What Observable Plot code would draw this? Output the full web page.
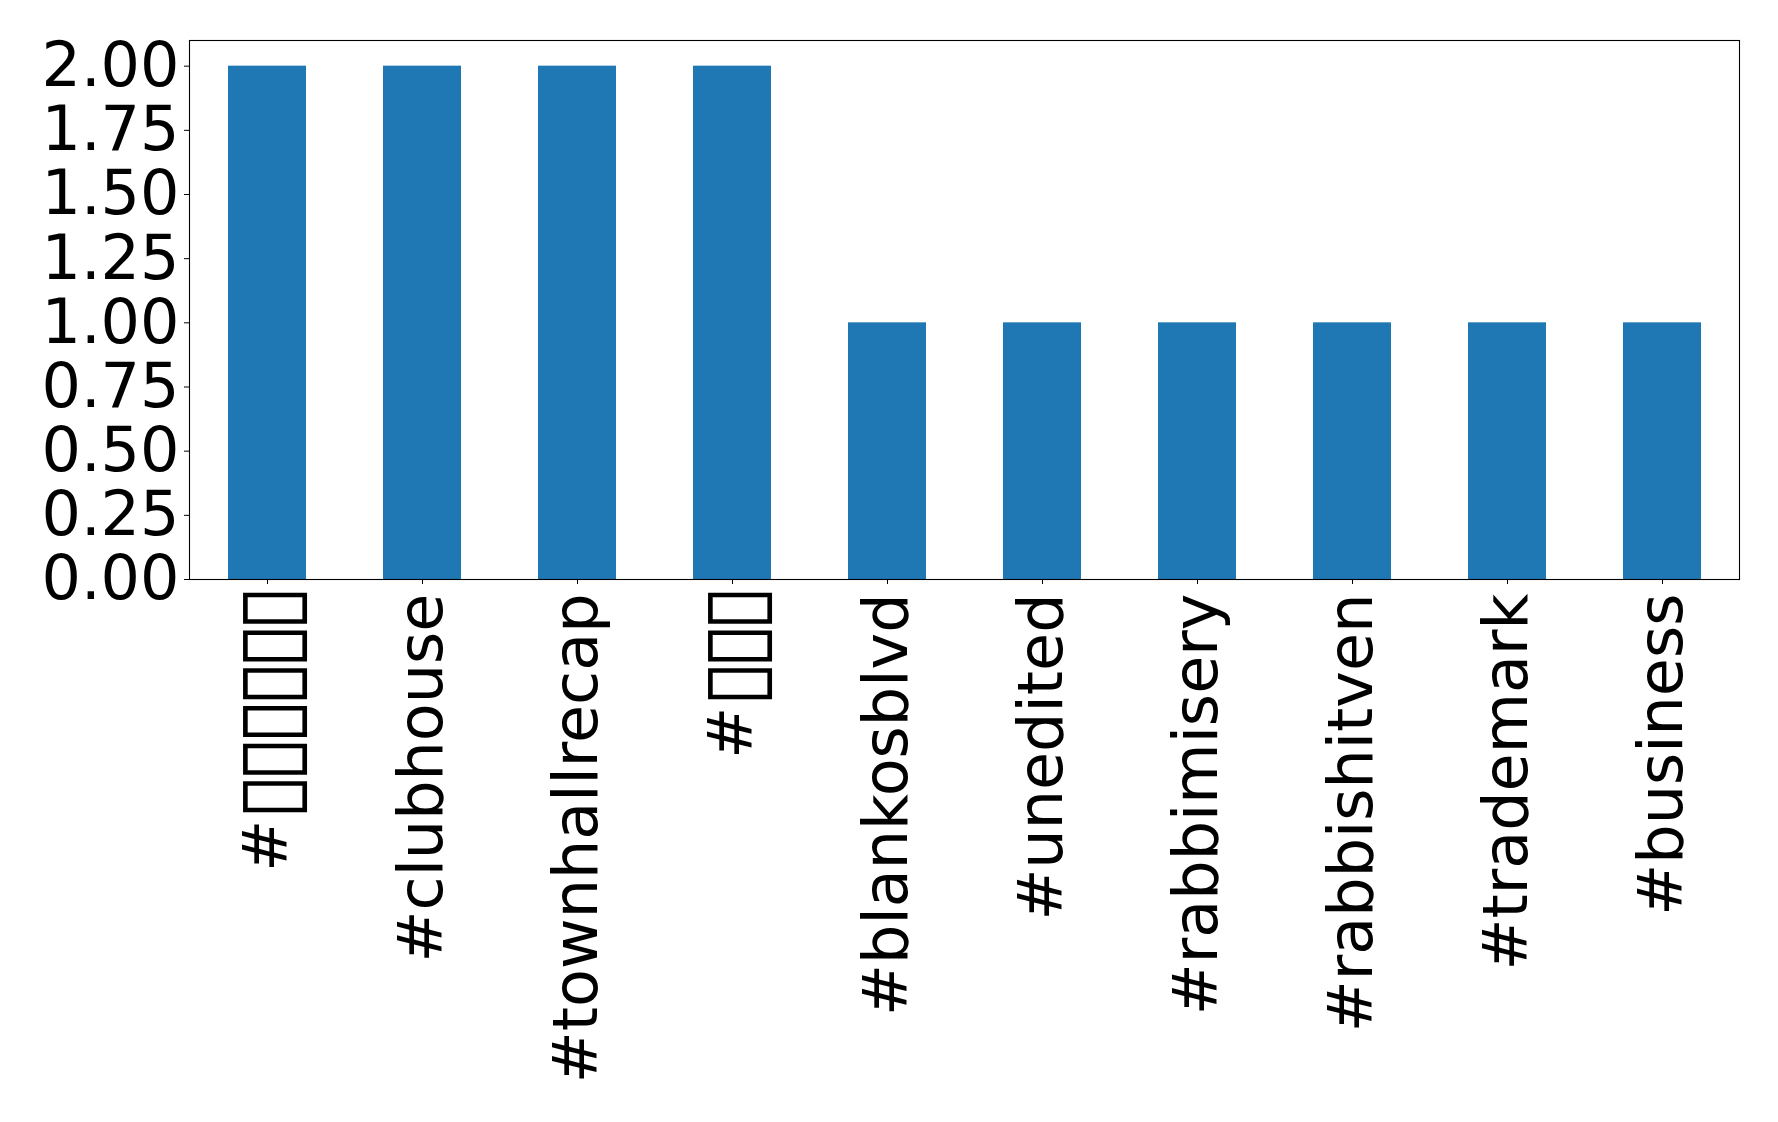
<!DOCTYPE html>
<html>
<head>
<meta charset="utf-8">
<script src="https://cdn.jsdelivr.net/npm/d3@7"></script>
<script src="https://cdn.jsdelivr.net/npm/@observablehq/plot@0.6"></script>
<style>
  html, body { margin: 0; padding: 0; background: white; }
</style>
</head>
<body>
<div id="chart"></div>
<script>
const tags = ["#▯▯▯▯▯▯", "#clubhouse", "#townhallrecap", "#▯▯▯", "#blankosblvd", "#unedited", "#rabbimisery", "#rabbishitven", "#trademark", "#business"];
const counts = [2, 2, 2, 2, 1, 1, 1, 1, 1, 1];
const yTicks = [0, 0.25, 0.5, 0.75, 1, 1.25, 1.5, 1.75, 2];

const data = tags.map((t, i) => ({tag: t, count: counts[i]}));

const chart = Plot.plot({
  width: 1778,
  height: 1122,
  marginLeft: 189,
  marginRight: 39,
  marginTop: 40,
  marginBottom: 543,
  style: {fontFamily: "DejaVu Sans", fontSize: "62px", color: "black", background: "white"},
  x: {domain: tags, paddingInner: 0.5, paddingOuter: 0.25, label: null},
  y: {domain: [0, 2.1], label: null},
  marks: [
    Plot.barY(data, {x: "tag", y: "count", fill: "#1f77b4"}),
    Plot.frame({stroke: "black", strokeWidth: 1.1}),
    Plot.axisY({ticks: yTicks, tickFormat: d => d.toFixed(2), tickSize: 5, tickPadding: 5, fontSize: 62, label: null}),
    Plot.axisX({tickRotate: -90, tickSize: 5, tickPadding: 9, fontSize: 62, label: null})
  ]
});

// Style the missing-glyph boxes so they look like the rendered "tofu" of the reference
d3.select(chart).selectAll("text").each(function() {
  const s = this.textContent;
  if (!s.includes("▯")) return;
  const runs = s.match(/▯+|[^▯]+/g);
  const el = d3.select(this);
  el.text(null);
  let shifted = false;
  for (const r of runs) {
    if (r[0] === "▯") {
      el.append("tspan").attr("dy", "10").attr("font-size", "84px").attr("letter-spacing", "-8.5px").text(r);
      shifted = true;
    } else {
      el.append("tspan").attr("dy", shifted ? "-10" : null).text(r);
      shifted = false;
    }
  }
});

document.getElementById("chart").appendChild(chart);
</script>
</body>
</html>
